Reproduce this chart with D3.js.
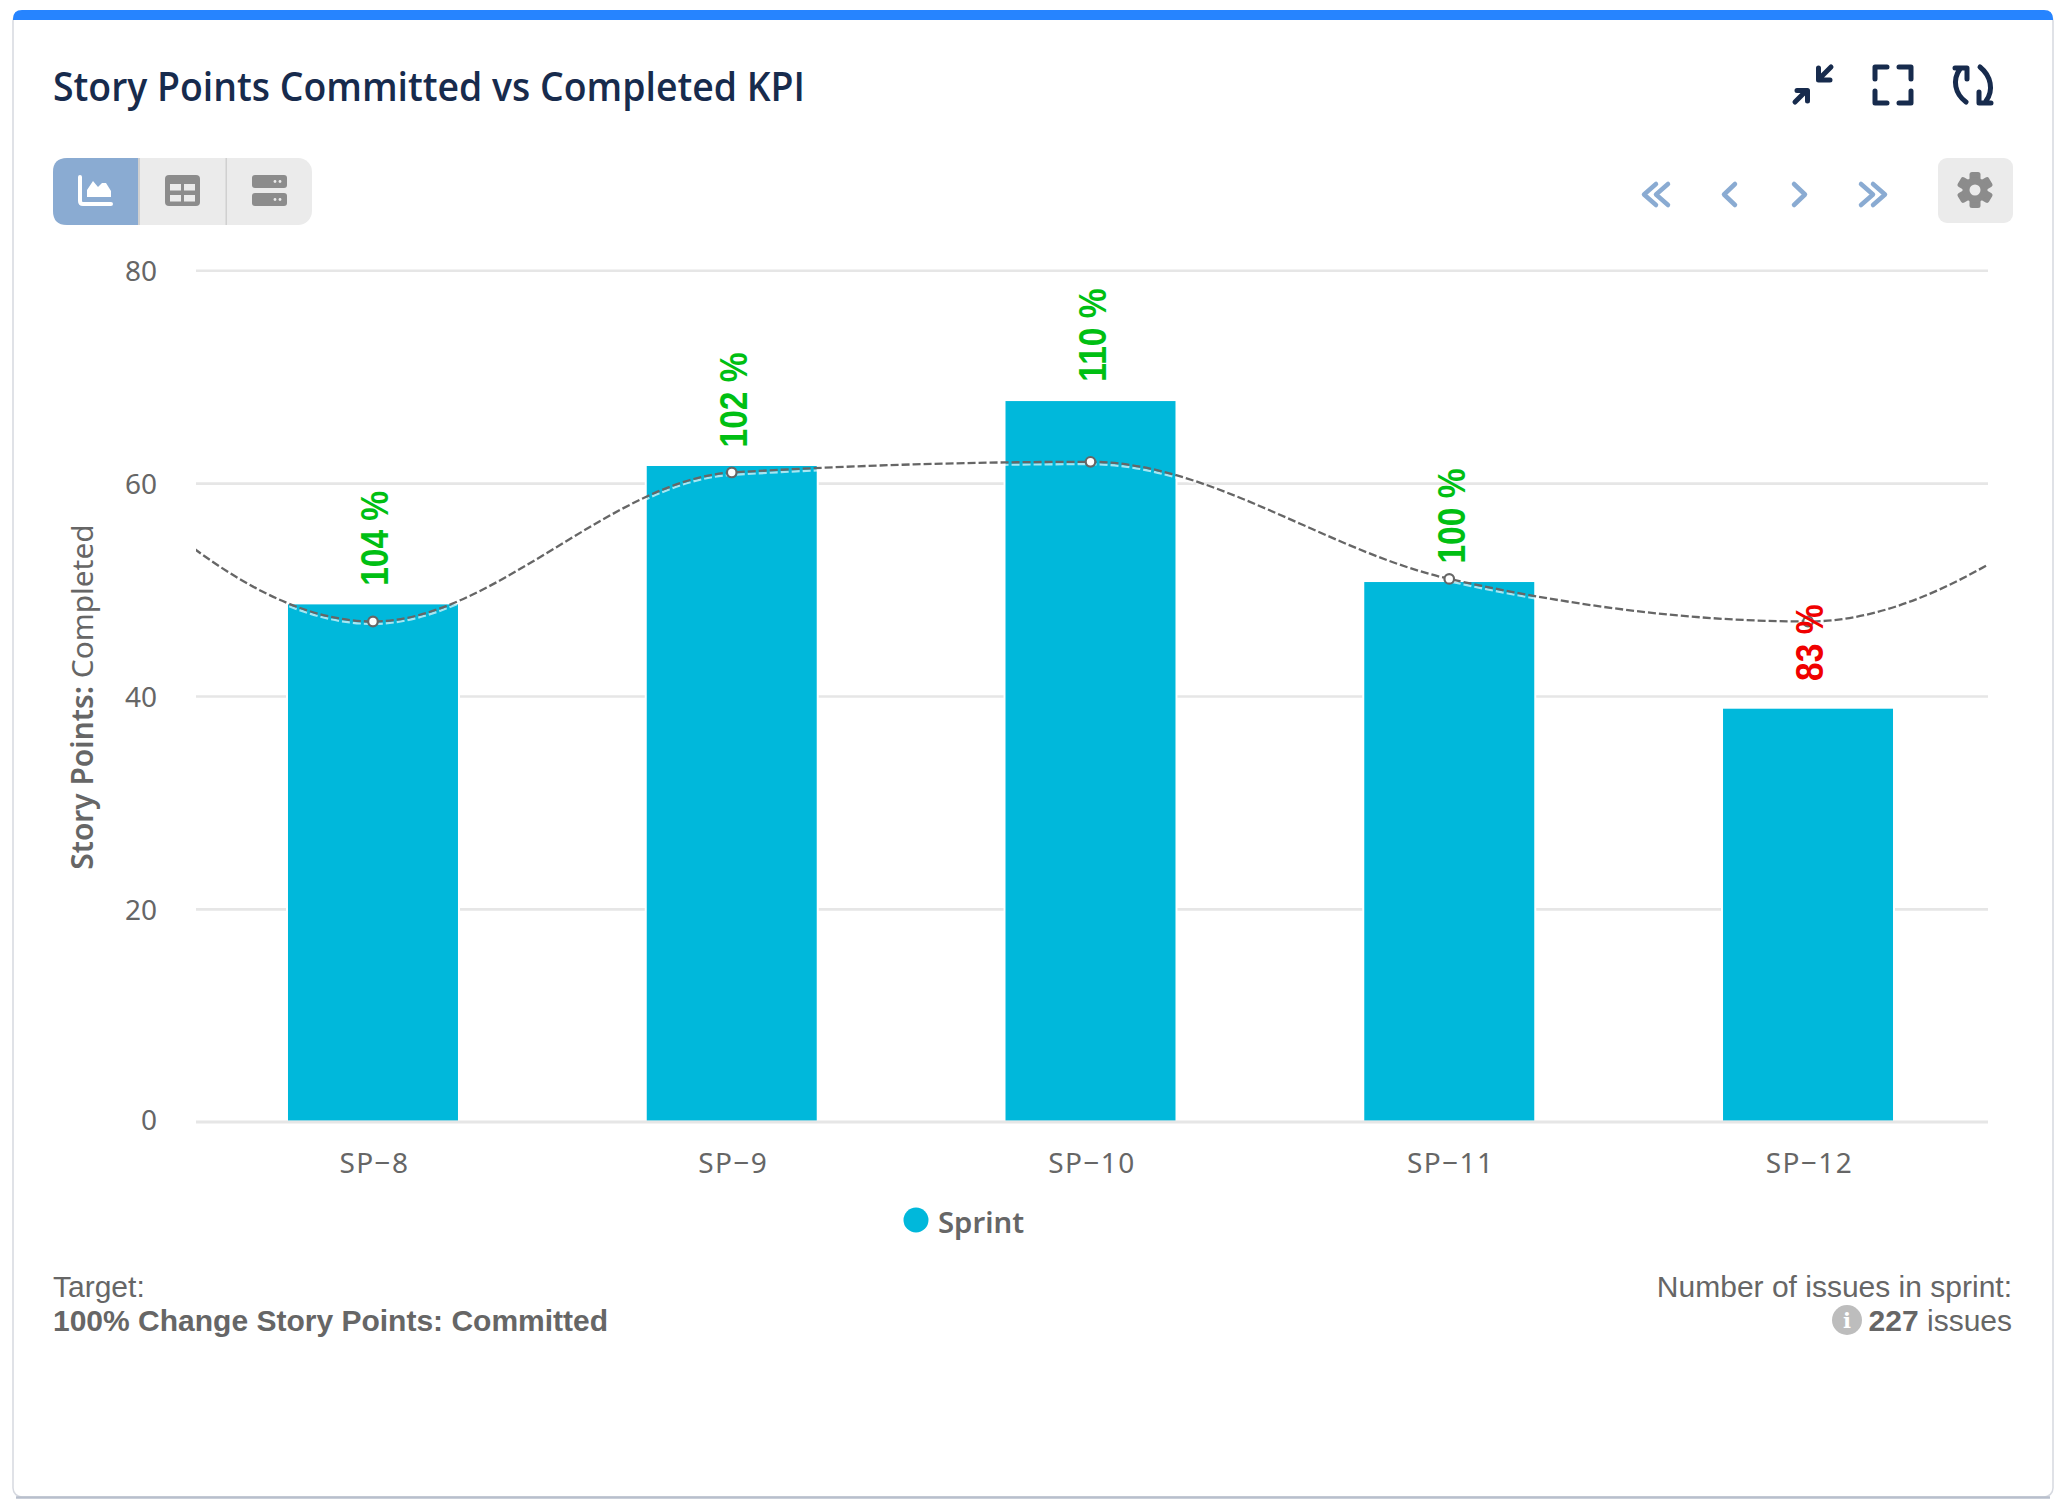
<!DOCTYPE html>
<html>
<head>
<meta charset="utf-8">
<title>Story Points Committed vs Completed KPI</title>
<script src="https://cdn.jsdelivr.net/npm/d3@7"></script>
<style>
    body { margin: 0; background: #fff; }
    svg { display: block; }
    .tick-label, .tick text { font-family: "Noto Sans", sans-serif; font-size: 28px; fill: #666; }
    .note { font-family: "Liberation Sans", Arial, sans-serif; font-size: 30px; fill: #666; }
</style>
</head>
<body>
<svg id="chart" width="2068" height="1507"></svg>
<script>
var categories = ["SP-8", "SP-9", "SP-10", "SP-11", "SP-12"];
var completed = [48.7, 61.7, 67.8, 50.8, 38.9];
var committed = [47, 61, 62, 51, 47];
// the line carries on to sprints outside the window, estimated from where it leaves the plot
var committedBefore = 69;
var committedAfter = 64;
var percentLabels = ["104 %", "102 %", "110 %", "100 %", "83 %"];
var percentMet = [true, true, true, true, false];
var yTicks = [0, 20, 40, 60, 80];

var barColor = "#00b8db";
var navy = "#172b4d";
var softBlue = "#8aabd2";
var iconGrey = "#8c8c8c";

var svg = d3.select("#chart");

function drawCard() {
    svg.append("rect")
        .attr("x", 13).attr("y", 12).attr("width", 2040).attr("height", 1485).attr("rx", 9)
        .attr("fill", "#fff").attr("stroke", "#d6d9e0").attr("stroke-width", 1.5);
    // darker shadow along the bottom
    svg.append("path")
        .attr("d", "M16,1497.5 H2050")
        .attr("stroke", "#b8bfcc").attr("stroke-width", 2.5).attr("fill", "none");
    // blue top strip
    svg.append("path")
        .attr("d", "M13,20 V19 Q13,10 22,10 H2044 Q2053,10 2053,19 V20 Z")
        .attr("fill", "#2684ff");

    svg.append("text")
        .attr("x", 53).attr("y", 101)
        .attr("font-family", "'Open Sans', sans-serif")
        .attr("font-size", 39).attr("font-weight", 600)
        .attr("fill", navy)
        .attr("textLength", 752).attr("lengthAdjust", "spacingAndGlyphs")
        .text("Story Points Committed vs Completed KPI");
}

function drawToolbar() {
    // view switcher
    svg.append("rect").attr("x", 53).attr("y", 158).attr("width", 259).attr("height", 67).attr("rx", 14).attr("fill", "#ebebeb");
    svg.append("path").attr("d", "M138,158 H67 Q53,158 53,172 V211 Q53,225 67,225 H138 Z").attr("fill", softBlue);
    svg.append("rect").attr("x", 138).attr("y", 158).attr("width", 2).attr("height", 67).attr("fill", "#d0d0d0");
    svg.append("rect").attr("x", 225.5).attr("y", 158).attr("width", 1.5).attr("height", 67).attr("fill", "#d0d0d0");

    svg.append("path").attr("d", "M80,177 V201 Q80,204 83,204 H111")
        .attr("fill", "none").attr("stroke", "#fff").attr("stroke-width", 4).attr("stroke-linecap", "round");
    svg.append("path").attr("d", "M87,197 V190 L93,181 L98,187 L102,183 L106,183 L111,191 V197 Z").attr("fill", "#fff");

    svg.append("rect").attr("x", 165).attr("y", 175).attr("width", 35).attr("height", 31).attr("rx", 4).attr("fill", iconGrey);
    [[170, 184], [184, 184], [170, 195], [184, 195]].forEach(function(c) {
        svg.append("rect").attr("x", c[0]).attr("y", c[1]).attr("width", 11).attr("height", 6.5).attr("fill", "#ebebeb");
    });

    [175, 193].forEach(function(y) {
        svg.append("rect").attr("x", 252).attr("y", y).attr("width", 35).attr("height", 13).attr("rx", 3).attr("fill", iconGrey);
        [275, 280].forEach(function(x) {
            svg.append("circle").attr("cx", x).attr("cy", y + 6.5).attr("r", 1.4).attr("fill", "#ebebeb");
        });
    });

    // paging chevrons
    var chevrons = svg.append("g").attr("fill", "none").attr("stroke", softBlue)
        .attr("stroke-width", 4.5).attr("stroke-linecap", "round").attr("stroke-linejoin", "round");
    ["M1656,184 L1644,194.5 L1656,205", "M1668,184 L1656,194.5 L1668,205",
     "M1735,184 L1724,194.5 L1735,205", "M1794,184 L1805,194.5 L1794,205",
     "M1861,184 L1873,194.5 L1861,205", "M1873,184 L1885,194.5 L1873,205"].forEach(function(d) {
        chevrons.append("path").attr("d", d);
    });

    // settings button
    svg.append("rect").attr("x", 1938).attr("y", 158).attr("width", 75).attr("height", 65).attr("rx", 9).attr("fill", "#ebebeb");
    var gear = svg.append("g").attr("transform", "translate(1975,190)");
    d3.range(3).forEach(function(i) {
        gear.append("rect").attr("x", -5.5).attr("y", -18).attr("width", 11).attr("height", 36).attr("rx", 2.5)
            .attr("fill", iconGrey).attr("transform", "rotate(" + i * 60 + ")");
    });
    gear.append("circle").attr("r", 12.5).attr("fill", iconGrey);
    gear.append("circle").attr("r", 5.5).attr("fill", "#ebebeb");

    // header icons
    var icons = svg.append("g").attr("fill", "none").attr("stroke", navy)
        .attr("stroke-width", 5).attr("stroke-linecap", "round").attr("stroke-linejoin", "round");
    // compress
    icons.append("path").attr("d", "M1795,102 L1806,91 M1797,90.5 H1807.5 V101");
    icons.append("path").attr("d", "M1831,67 L1820,78 M1818.5,68 V80 H1830");
    // expand
    icons.append("path").attr("d", "M1875,79 V67 H1887 M1899,67 H1911 V79 M1875,91 V103 H1887 M1899,103 H1911 V91");
    // refresh
    icons.append("path").attr("d", "M1966,102 C1955,94 1952,80 1960,69 M1955,68 H1967 V79");
    icons.append("path").attr("d", "M1980,67 C1991,76 1994,90 1986,101 M1991,103 H1979 V92");
}

function drawChart() {
    var plotLeft = 196, plotRight = 1988;

    var x = d3.scaleBand()
        .domain(categories)
        .range([193.6, 1987.4])
        .paddingInner(0.5206)
        .paddingOuter(0.2603);

    var y = d3.scaleLinear().domain([0, 80]).range([1121.8, 270.2]);

    // grid lines and value labels
    var yAxis = svg.append("g")
        .attr("transform", "translate(" + plotLeft + ",0)")
        .call(d3.axisLeft(y).tickValues(yTicks).tickSize(plotLeft - plotRight).tickPadding(39));
    yAxis.select(".domain").remove();
    yAxis.selectAll(".tick line").attr("stroke", "#e6e6e6").attr("stroke-width", 2.6);
    yAxis.selectAll(".tick text").attr("dy", function(d) { return d === 0 ? "0.26em" : "0.38em"; });

    var center = function(d) { return x(d) + x.bandwidth() / 2; };

    // bars have a thin white edge that cuts the grid lines
    svg.append("g").selectAll("rect")
        .data(categories)
        .join("rect")
        .attr("x", function(d) { return x(d); })
        .attr("width", x.bandwidth())
        .attr("y", function(d, i) { return y(completed[i]); })
        .attr("height", function(d, i) { return y(0) - y(completed[i]); })
        .attr("fill", barColor)
        .attr("stroke", "#fff")
        .attr("stroke-width", 2);

    // category axis
    var xAxis = svg.append("g")
        .attr("transform", "translate(1.5," + y(0) + ")")
        .call(d3.axisBottom(x).tickSize(0).tickPadding(31));
    xAxis.select(".domain").remove();
    xAxis.selectAll(".tick text").attr("letter-spacing", 1.4).text(function(d) { return d.replace("-", "\u2212"); });
    svg.append("line")
        .attr("x1", plotLeft).attr("x2", plotRight)
        .attr("y1", y(0)).attr("y2", y(0))
        .attr("stroke", "#e6e6e6").attr("stroke-width", 2.6);

    // committed line, clipped to the plot
    svg.append("clipPath").attr("id", "plot-clip")
        .append("rect").attr("x", plotLeft).attr("y", 260).attr("width", plotRight - plotLeft).attr("height", 870);

    var linePoints = [committedBefore].concat(committed, [committedAfter]);
    var line = d3.line()
        .x(function(d, i) { return center(categories[0]) + (i - 1) * x.step(); })
        .y(function(d) { return y(d); })
        .curve(d3.curveMonotoneX);

    var lines = svg.append("g").attr("clip-path", "url(#plot-clip)");
    lines.append("path")
        .attr("d", line(linePoints))
        .attr("transform", "translate(0,2.4)")
        .attr("fill", "none").attr("stroke", "#fff").attr("stroke-opacity", 0.65)
        .attr("stroke-width", 2.2).attr("stroke-dasharray", "8,3");
    lines.append("path")
        .attr("d", line(linePoints))
        .attr("fill", "none").attr("stroke", "#666")
        .attr("stroke-width", 2.3).attr("stroke-dasharray", "8,3");

    svg.append("g").selectAll("circle")
        .data(categories)
        .join("circle")
        .attr("cx", center)
        .attr("cy", function(d, i) { return y(committed[i]); })
        .attr("r", 4.8)
        .attr("fill", "#fff").attr("stroke", "#666").attr("stroke-width", 2.2);

    // percentages, centred on a spot above each bar
    svg.append("g").selectAll("text")
        .data(categories)
        .join("text")
        .attr("transform", function(d, i) {
            return "translate(" + (center(d) + 15.3) + "," + (y(completed[i]) - 65) + ") rotate(-90) scale(1,1.15)";
        })
        .attr("text-anchor", "middle")
        .attr("font-family", "'Liberation Sans', Arial, sans-serif")
        .attr("font-weight", 700).attr("font-size", 33.5)
        .attr("fill", function(d, i) { return percentMet[i] ? "#00bf13" : "#f00000"; })
        .text(function(d, i) { return percentLabels[i]; });

    // axis title
    var title = svg.append("text")
        .attr("transform", "translate(93,697) rotate(-90)")
        .attr("text-anchor", "middle")
        .attr("font-family", "'Noto Sans', sans-serif")
        .attr("font-size", 29.9).attr("fill", "#666");
    title.append("tspan").attr("font-weight", 600).text("Story Points:");
    title.append("tspan").text(" Completed");

    // legend
    svg.append("circle").attr("cx", 916).attr("cy", 1220).attr("r", 12.5).attr("fill", barColor);
    svg.append("text")
        .attr("x", 938).attr("y", 1233)
        .attr("font-family", "'Noto Sans', sans-serif")
        .attr("font-size", 29.3).attr("font-weight", 600).attr("fill", "#666")
        .text("Sprint");
}

function drawNotes() {
    svg.append("text").attr("class", "note").attr("x", 53).attr("y", 1297).text("Target:");
    svg.append("text").attr("class", "note").attr("x", 53).attr("y", 1331).attr("font-weight", 700)
        .text("100% Change Story Points: Committed");

    svg.append("text").attr("class", "note").attr("x", 2012).attr("y", 1297).attr("text-anchor", "end")
        .text("Number of issues in sprint:");
    var count = svg.append("text").attr("class", "note").attr("x", 2012).attr("y", 1331).attr("text-anchor", "end");
    count.append("tspan").attr("font-weight", 700).text("227");
    count.append("tspan").text(" issues");

    svg.append("circle").attr("cx", 1847).attr("cy", 1320).attr("r", 15).attr("fill", "#bdbdbd");
    svg.append("text").attr("x", 1847).attr("y", 1328).attr("text-anchor", "middle")
        .attr("font-family", "'DejaVu Serif', serif").attr("font-weight", 700)
        .attr("font-size", 21).attr("fill", "#fff").text("i");
}

drawCard();
drawToolbar();
drawChart();
drawNotes();
</script>
</body>
</html>
